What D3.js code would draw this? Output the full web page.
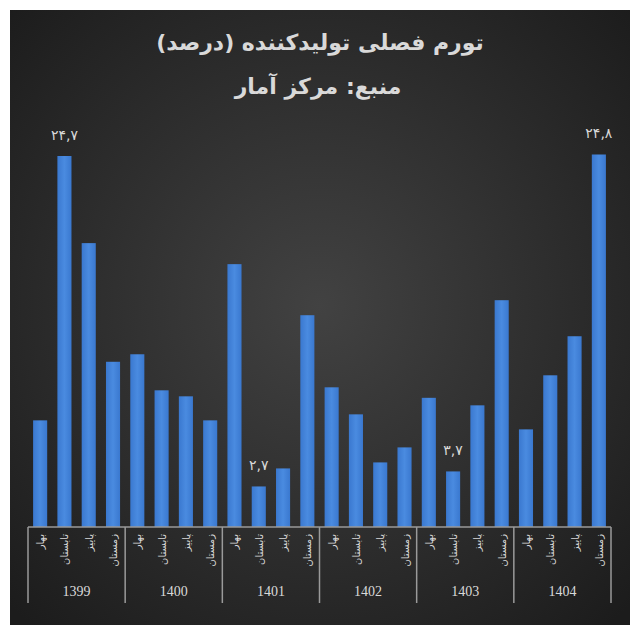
<!DOCTYPE html>
<html>
<head>
<meta charset="utf-8">
<script src="https://cdn.jsdelivr.net/npm/d3@7"></script>
<style>
  body { margin: 0; background: #fff; }
  svg { display: block; }
</style>
</head>
<body>
<svg id="chart" width="630" height="625"></svg>
<script>
// data
var years = ["1399", "1400", "1401", "1402", "1403", "1404"];
var seasons = ["بهار", "تابستان", "پاییز", "زمستان"];
var values = [
  7.1, 24.7, 18.9, 11.0,
  11.5, 9.1, 8.7, 7.1,
  17.5, 2.7, 3.9, 14.1,
  9.3, 7.5, 4.3, 5.3,
  8.6, 3.7, 8.1, 15.1,
  6.5, 10.1, 12.7, 24.8
];
// only these bars carry a label
var labelled = {1: "۲۴,۷", 9: "۲,۷", 17: "۳,۷", 23: "۲۴,۸"};

(function() {
  var svg = d3.select("#chart");
  var defs = svg.append("defs");

  var bg = defs.append("radialGradient").attr("id", "bg")
    .attr("cx", "50%").attr("cy", "48%").attr("r", "70%");
  bg.append("stop").attr("offset", "0%").attr("stop-color", "#424242");
  bg.append("stop").attr("offset", "100%").attr("stop-color", "#1c1c1c");

  var barFill = defs.append("linearGradient").attr("id", "barFill")
    .attr("x1", 0).attr("x2", 1).attr("y1", 0).attr("y2", 0);
  barFill.append("stop").attr("offset", "0%").attr("stop-color", "#3a78cf");
  barFill.append("stop").attr("offset", "50%").attr("stop-color", "#4a8be0");
  barFill.append("stop").attr("offset", "100%").attr("stop-color", "#3a78cf");

  svg.append("rect")
    .attr("x", 10).attr("y", 10)
    .attr("width", 620).attr("height", 615)
    .style("fill", "url(#bg)");

  var left = 28, right = 611, base = 527, plotTop = 156;
  var cats = d3.range(values.length);

  var x = d3.scaleBand().domain(cats).range([left, right]).paddingInner(0.42).paddingOuter(0.21);
  var y = d3.scaleLinear().domain([0, 24.7]).range([base, plotTop]);

  var txt = "#d9d9d9";

  // title
  svg.append("text")
    .attr("x", 320).attr("y", 50)
    .attr("text-anchor", "middle")
    .style("font-family", "DejaVu Sans, sans-serif")
    .style("font-weight", "bold")
    .style("font-size", "22px")
    .style("fill", txt)
    .text("تورم فصلی تولیدکننده (درصد)");

  svg.append("text")
    .attr("x", 318).attr("y", 94)
    .attr("text-anchor", "middle")
    .style("font-family", "DejaVu Sans, sans-serif")
    .style("font-weight", "bold")
    .style("font-size", "22px")
    .style("fill", txt)
    .text("منبع: مرکز آمار");

  // bars
  svg.selectAll("rect.bar")
    .data(values)
    .enter().append("rect")
    .attr("class", "bar")
    .attr("x", function(d, i) { return x(i); })
    .attr("width", x.bandwidth())
    .attr("y", function(d) { return y(d); })
    .attr("height", function(d) { return base - y(d); })
    .style("fill", "url(#barFill)");

  // data labels
  svg.selectAll("text.val")
    .data(cats.filter(function(i) { return labelled[i]; }))
    .enter().append("text")
    .attr("class", "val")
    .attr("x", function(i) { return x(i) + x.bandwidth() / 2; })
    .attr("y", function(i) { return y(values[i]) - 16; })
    .attr("text-anchor", "middle")
    .style("font-family", "DejaVu Sans, sans-serif")
    .style("font-size", "14px")
    .style("fill", txt)
    .text(function(i) { return labelled[i]; });

  // category axis
  var axis = svg.append("g").style("stroke", "#9a9a9a").style("stroke-width", 1.5);
  axis.append("line")
    .attr("x1", left).attr("x2", right)
    .attr("y1", base).attr("y2", base);

  var step = (right - left) / years.length;
  d3.range(years.length + 1).forEach(function(k) {
    axis.append("line")
      .attr("x1", left + k * step).attr("x2", left + k * step)
      .attr("y1", base).attr("y2", 603);
  });

  svg.selectAll("text.season")
    .data(cats)
    .enter().append("text")
    .attr("class", "season")
    .attr("transform", function(i) {
      return "translate(" + (x(i) + x.bandwidth() / 2 + 4) + "," + (base + 7) + ") rotate(-90)";
    })
    .attr("text-anchor", "end")
    .style("font-family", "DejaVu Sans, sans-serif")
    .style("font-size", "10px")
    .style("fill", txt)
    .text(function(i) { return seasons[i % 4]; });

  svg.selectAll("text.year")
    .data(years)
    .enter().append("text")
    .attr("class", "year")
    .attr("x", function(d, k) { return left + (k + 0.5) * step; })
    .attr("y", 596)
    .attr("text-anchor", "middle")
    .style("font-family", "Liberation Serif, serif")
    .style("font-size", "14px")
    .style("fill", txt)
    .text(function(d) { return d; });
})();
</script>
</body>
</html>
